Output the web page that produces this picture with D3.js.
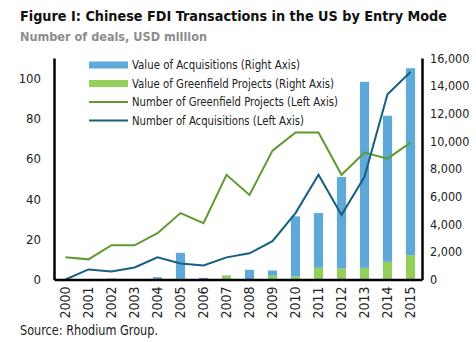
<!DOCTYPE html>
<html>
<head>
<meta charset="utf-8">
<script src="https://cdn.jsdelivr.net/npm/d3@7"></script>
<style>
  body { margin: 0; background: #fff; }
  svg text { font-family: "Liberation Sans Narrow", "Arial Narrow", "DejaVu Sans Condensed", sans-serif; fill: #222; }
</style>
</head>
<body>
<div id="chart"></div>
<script>
var years = ["2000", "2001", "2002", "2003", "2004", "2005", "2006", "2007",
  "2008", "2009", "2010", "2011", "2012", "2013", "2014", "2015"];

// USD million (right axis), stacked: greenfield at the bottom
var greenfieldValue = [0, 0, 0, 0, 0, 50, 0, 280, 30, 270, 220, 840, 800, 840, 1275, 1760];
var acquisitionValue = [0, 0, 70, 0, 170, 1880, 120, 20, 670, 380, 4340, 3960, 6600, 13440, 10550, 13500];

// number of deals (left axis)
var greenfieldCount = [11, 10, 17, 17, 23, 33, 28, 52, 42, 64, 73, 73, 52, 63, 60, 68];
var acquisitionCount = [0, 5, 4, 6, 11, 8, 7, 11, 13, 19, 33, 52, 32, 51, 92, 103];

var leftTicks = [0, 20, 40, 60, 80, 100];
var rightTicks = [0, 2000, 4000, 6000, 8000, 10000, 12000, 14000, 16000];

var legendItems = [
  { label: "Value of Acquisitions (Right Axis)", type: "bar", color: "#5ea9d8", width: 168 },
  { label: "Value of Greenfield Projects (Right Axis)", type: "bar", color: "#94cf5c", width: 202 },
  { label: "Number of Greenfield Projects (Left Axis)", type: "line", color: "#5e9a2e", width: 206 },
  { label: "Number of Acquisitions (Left Axis)", type: "line", color: "#175e80", width: 172 }
];

var svgWidth = 476;
var svgHeight = 342;
var plot = { left: 54, right: 422, top: 58, bottom: 279.5 };

var svg = d3.select("#chart")
  .append("svg")
  .attr("width", svgWidth)
  .attr("height", svgHeight);

// shrink a text until its natural width fits, then pin it to that width
function fitText(sel, size, width) {
  sel.attr("font-size", size);
  var w = sel.node().getComputedTextLength();
  if (w > width) sel.attr("font-size", size * width / w);
  sel.attr("textLength", width).attr("lengthAdjust", "spacingAndGlyphs");
}

// title block
var title = svg.append("text")
  .attr("x", 20)
  .attr("y", 21)
  .attr("font-weight", "bold")
  .style("fill", "#111")
  .text("Figure I: Chinese FDI Transactions in the US by Entry Mode");
fitText(title, 15.5, 427);

var subtitle = svg.append("text")
  .attr("x", 20)
  .attr("y", 40.5)
  .attr("font-weight", "bold")
  .style("fill", "#8c8c8c")
  .text("Number of deals, USD million");
fitText(subtitle, 14, 187);

// scales
var x = d3.scaleBand()
  .domain(years)
  .range([plot.left, plot.right])
  .padding(0);

var yLeft = d3.scaleLinear()
  .domain([0, 110])
  .range([plot.bottom, plot.top]);

var yRight = d3.scaleLinear()
  .domain([0, 16000])
  .range([plot.bottom, plot.top]);

var barWidth = x.bandwidth() * 0.4;
var barX = function(year) { return x(year) + (x.bandwidth() - barWidth) / 2; };

var rows = years.map(function(year, i) {
  return {
    year: year,
    green: greenfieldValue[i],
    acq: acquisitionValue[i],
    greenCount: greenfieldCount[i],
    acqCount: acquisitionCount[i]
  };
});

// stacked bars
var barGroup = svg.append("g");

barGroup.selectAll("rect.green")
  .data(rows)
  .enter()
  .append("rect")
  .attr("class", "green")
  .attr("x", d => barX(d.year))
  .attr("width", barWidth)
  .attr("y", d => yRight(d.green))
  .attr("height", d => yRight(0) - yRight(d.green))
  .attr("fill", legendItems[1].color);

barGroup.selectAll("rect.acq")
  .data(rows)
  .enter()
  .append("rect")
  .attr("class", "acq")
  .attr("x", d => barX(d.year))
  .attr("width", barWidth)
  .attr("y", d => yRight(d.green + d.acq))
  .attr("height", d => yRight(d.green) - yRight(d.green + d.acq))
  .attr("fill", legendItems[0].color);

// count lines
var cx = d => x(d.year) + x.bandwidth() / 2;

var greenLine = d3.line().x(cx).y(d => yLeft(d.greenCount));
var acqLine = d3.line().x(cx).y(d => yLeft(d.acqCount));

svg.append("path")
  .datum(rows)
  .attr("d", greenLine)
  .attr("fill", "none")
  .attr("stroke", legendItems[2].color)
  .attr("stroke-width", 2);

svg.append("path")
  .datum(rows)
  .attr("d", acqLine)
  .attr("fill", "none")
  .attr("stroke", legendItems[3].color)
  .attr("stroke-width", 2);

// axes
var leftAxis = svg.append("g")
  .attr("transform", `translate(${plot.left}, 0)`)
  .call(d3.axisLeft(yLeft).tickValues(leftTicks).tickSize(0).tickSizeOuter(0).tickPadding(13));

var rightAxis = svg.append("g")
  .attr("transform", `translate(${plot.right}, 0)`)
  .call(d3.axisRight(yRight).tickValues(rightTicks).tickSize(0).tickSizeOuter(0).tickPadding(8)
    .tickFormat(d3.format(",")));

var bottomAxis = svg.append("g")
  .attr("transform", `translate(0, ${plot.bottom})`)
  .call(d3.axisBottom(x).tickSize(0).tickSizeOuter(0));

bottomAxis.selectAll("text")
  .attr("transform", "rotate(-90)")
  .attr("x", -7)
  .attr("y", 0)
  .attr("dy", "0.35em")
  .style("text-anchor", "end");

[leftAxis, rightAxis, bottomAxis].forEach(function(axis) {
  axis.attr("font-family", null);
  axis.select(".domain")
    .attr("stroke", "#000")
    .attr("stroke-width", 2.5);
  axis.selectAll("text")
    .attr("font-size", 13);
});
rightAxis.selectAll("text").attr("font-size", 12.5);
bottomAxis.selectAll("text").attr("font-size", 14);

// legend
var legend = svg.append("g")
  .attr("transform", "translate(89, 65)");

var legendRow = legend.selectAll("g")
  .data(legendItems)
  .enter()
  .append("g")
  .attr("transform", (d, i) => `translate(0, ${i * 18.5})`);

legendRow.filter(d => d.type === "bar")
  .append("rect")
  .attr("x", 0)
  .attr("y", -3.5)
  .attr("width", 39)
  .attr("height", 7)
  .attr("fill", d => d.color);

legendRow.filter(d => d.type === "line")
  .append("line")
  .attr("x1", 0)
  .attr("x2", 39)
  .attr("y1", 0)
  .attr("y2", 0)
  .attr("stroke", d => d.color)
  .attr("stroke-width", 2);

legendRow.append("text")
  .attr("x", 43)
  .attr("y", 0)
  .attr("dy", "0.35em")
  .attr("font-size", 12.5)
  .attr("textLength", d => d.width)
  .attr("lengthAdjust", "spacingAndGlyphs")
  .text(d => d.label);

// source note
svg.append("text")
  .attr("x", 20)
  .attr("y", 335)
  .attr("font-size", 13.5)
  .attr("textLength", 138)
  .attr("lengthAdjust", "spacingAndGlyphs")
  .text("Source: Rhodium Group.");
</script>
</body>
</html>
